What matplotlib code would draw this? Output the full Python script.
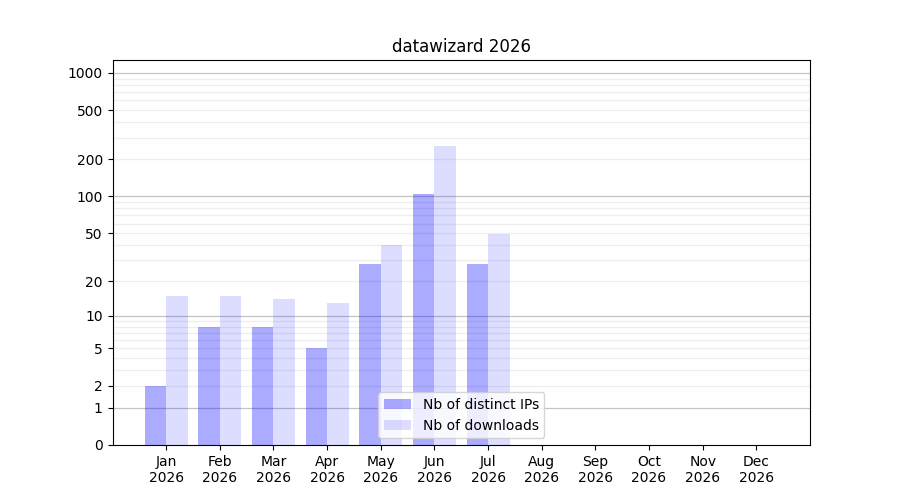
import matplotlib
matplotlib.use("Agg")
import matplotlib.pyplot as plt
import numpy as np

months = ["Jan", "Feb", "Mar", "Apr", "May", "Jun",
          "Jul", "Aug", "Sep", "Oct", "Nov", "Dec"]
year = "2026"
nb_ips = [2, 8, 8, 5, 28, 105, 28, 0, 0, 0, 0, 0]
nb_downloads = [15, 15, 14, 13, 40, 258, 49, 0, 0, 0, 0, 0]
ytick_values = [0, 1, 2, 5, 10, 20, 50, 100, 200, 500, 1000]


def fwd(y):
    return np.log10(1 + np.maximum(y, 0))


def inv(y):
    return 10 ** y - 1


fig, ax = plt.subplots(figsize=(9, 5), dpi=100)
x = np.arange(len(months))

ax.bar(x, nb_ips, width=-0.4, align="edge", color="blue", alpha=0.33,
       label="Nb of distinct IPs", zorder=2)
ax.bar(x, nb_downloads, width=0.4, align="edge", color="blue", alpha=0.135,
       label="Nb of downloads", zorder=2)

ax.set_yscale("function", functions=(fwd, inv))
ax.set_ylim(0, 1270)
ax.set_xlim(-1, 12)

# grid: decades darker, in-between values lighter
for dec in [1, 10, 100, 1000]:
    ax.axhline(dec, color="#c4c4c4", lw=0.9, zorder=1)
    for k in range(2, 10):
        if dec * k < 1270:
            ax.axhline(dec * k, color="#eeeeee", lw=0.9, zorder=1)

ax.set_yticks(ytick_values)
ax.set_yticklabels([str(v) for v in ytick_values])
ax.set_xticks(x)
ax.set_xticklabels([m + "\n" + year for m in months])

ax.set_title("datawizard " + year)
ax.legend(loc="lower center")

fig.savefig("out.png")
